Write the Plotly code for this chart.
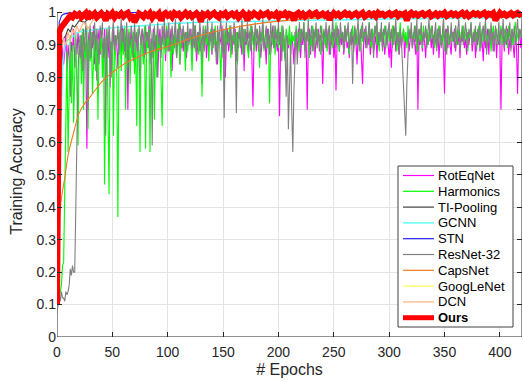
import plotly.graph_objects as go

# ---------------- data ----------------
# noisy baselines: one value per epoch (0 .. 420)
rotEqNet = [
    0.10, 0.55, 0.80, 0.86, 0.78, 0.90, 0.84, 0.88, 0.93, 0.82, 0.90, 0.86, 0.74, 0.91, 0.88, 0.95, 0.83, 0.92, 0.87, 0.94,
    0.89, 0.93, 0.85, 0.95, 0.80, 0.91, 0.88, 0.58, 0.90, 0.94, 0.86, 0.92, 0.89, 0.96, 0.84, 0.93, 0.79, 0.91, 0.95, 0.87,
    0.93, 0.90, 0.84, 0.95, 0.88, 0.92, 0.86, 0.94, 0.77, 0.91, 0.89, 0.95, 0.87, 0.93, 0.90, 0.83, 0.94, 0.91, 0.88, 0.96,
    0.90, 0.93, 0.86, 0.95, 0.70, 0.92, 0.89, 0.94, 0.87, 0.91, 0.95, 0.85, 0.93, 0.90, 0.88, 0.76, 0.92, 0.95, 0.89, 0.93,
    0.87, 0.94, 0.91, 0.96, 0.84, 0.92, 0.89, 0.95, 0.90, 0.86, 0.93, 0.80, 0.91, 0.95, 0.88, 0.93, 0.90, 0.96, 0.85, 0.92,
    0.94, 0.88, 0.91, 0.95, 0.82, 0.93, 0.89, 0.96, 0.87, 0.92, 0.94, 0.84, 0.90, 0.95, 0.88, 0.93, 0.91, 0.86, 0.94, 0.90,
    0.92, 0.95, 0.87, 0.93, 0.89, 0.96, 0.85, 0.91, 0.94, 0.88, 0.92, 0.78, 0.93, 0.90, 0.95, 0.86, 0.92, 0.89, 0.94, 0.91,
    0.87, 0.93, 0.95, 0.88, 0.91, 0.84, 0.94, 0.90, 0.92, 0.96, 0.86, 0.93, 0.80, 0.91, 0.95, 0.88, 0.92, 0.94, 0.87, 0.93,
    0.90, 0.95, 0.85, 0.92, 0.89, 0.94, 0.91, 0.87, 0.95, 0.82, 0.93, 0.90, 0.94, 0.88, 0.92, 0.96, 0.86, 0.71, 0.91, 0.94,
    0.88, 0.93, 0.90, 0.95, 0.86, 0.92, 0.94, 0.89, 0.91, 0.84, 0.95, 0.90, 0.93, 0.87, 0.92, 0.96, 0.89, 0.94, 0.91, 0.88,
    0.93, 0.68, 0.90, 0.95, 0.88, 0.92, 0.86, 0.94, 0.91, 0.89, 0.95, 0.87, 0.93, 0.90, 0.84, 0.94, 0.92, 0.88, 0.95, 0.91,
    0.86, 0.93, 0.90, 0.94, 0.88, 0.92, 0.70, 0.91, 0.95, 0.87, 0.93, 0.89, 0.94, 0.86, 0.92, 0.90, 0.95, 0.88, 0.93, 0.91,
    0.78, 0.92, 0.94, 0.89, 0.91, 0.95, 0.87, 0.93, 0.90, 0.94, 0.86, 0.92, 0.76, 0.91, 0.95, 0.88, 0.93, 0.90, 0.94, 0.87,
    0.92, 0.95, 0.89, 0.91, 0.86, 0.94, 0.90, 0.93, 0.88, 0.95, 0.91, 0.84, 0.93, 0.90, 0.94, 0.87, 0.78, 0.92, 0.95, 0.89,
    0.93, 0.90, 0.94, 0.87, 0.92, 0.95, 0.88, 0.91, 0.93, 0.86, 0.94, 0.90, 0.92, 0.95, 0.89, 0.93, 0.87, 0.91, 0.94, 0.90,
    0.86, 0.92, 0.83, 0.94, 0.90, 0.95, 0.88, 0.93, 0.91, 0.87, 0.94, 0.89, 0.92, 0.95, 0.86, 0.93, 0.90, 0.94, 0.88, 0.92,
    0.95, 0.89, 0.93, 0.91, 0.87, 0.94, 0.70, 0.92, 0.90, 0.95, 0.88, 0.93, 0.91, 0.86, 0.94, 0.90, 0.92, 0.95, 0.89, 0.93,
    0.87, 0.94, 0.91, 0.89, 0.95, 0.86, 0.92, 0.90, 0.93, 0.88, 0.75, 0.92, 0.95, 0.89, 0.93, 0.90, 0.87, 0.94, 0.91, 0.95,
    0.88, 0.92, 0.90, 0.94, 0.86, 0.93, 0.91, 0.95, 0.89, 0.92, 0.87, 0.94, 0.90, 0.93, 0.95, 0.88, 0.91, 0.94, 0.86, 0.92,
    0.90, 0.95, 0.88, 0.93, 0.91, 0.85, 0.94, 0.89, 0.92, 0.95, 0.87, 0.93, 0.90, 0.94, 0.88, 0.91, 0.95, 0.86, 0.93, 0.90,
    0.92, 0.70, 0.91, 0.94, 0.88, 0.93, 0.90, 0.95, 0.87, 0.92, 0.89, 0.94, 0.91, 0.86, 0.93, 0.90, 0.75, 0.92, 0.94, 0.89,
    0.93,
]

harmonics = [
    0.10, 0.11, 0.12, 0.14, 0.16, 0.22, 0.23, 0.45, 0.70, 0.88, 0.57, 0.80, 0.93, 0.72, 0.90, 0.66, 0.85, 0.94, 0.75, 0.59,
    0.88, 0.93, 0.78, 0.95, 0.70, 0.91, 0.86, 0.96, 0.64, 0.92, 0.85, 0.94, 0.75, 0.90, 0.95, 0.82, 0.93, 0.67, 0.91, 0.88,
    0.94, 0.80, 0.92, 0.47, 0.89, 0.95, 0.73, 0.44, 0.91, 0.86, 0.94, 0.62, 0.93, 0.88, 0.80, 0.37, 0.90, 0.95, 0.82, 0.92,
    0.87, 0.96, 0.70, 0.93, 0.89, 0.95, 0.78, 0.92, 0.86, 0.94, 0.81, 0.91, 0.65, 0.95, 0.88, 0.57, 0.93, 0.90, 0.84, 0.96,
    0.58, 0.92, 0.89, 0.95, 0.57, 0.91, 0.86, 0.94, 0.67, 0.93, 0.80, 0.95, 0.88, 0.92, 0.78, 0.65, 0.94, 0.90, 0.87, 0.96,
    0.88, 0.93, 0.91, 0.80, 0.95, 0.87, 0.92, 0.94, 0.86, 0.90, 0.97, 0.84, 0.93, 0.89, 0.95, 0.91, 0.82, 0.94, 0.88, 0.93,
    0.95, 0.90, 0.82, 0.93, 0.96, 0.88, 0.92, 0.94, 0.87, 0.95, 0.91, 0.74, 0.93, 0.89, 0.96, 0.90, 0.94, 0.85, 0.92, 0.95,
    0.88, 0.93, 0.90, 0.96, 0.85, 0.92, 0.94, 0.89, 0.79, 0.93, 0.91, 0.95, 0.87, 0.94, 0.90, 0.92, 0.96, 0.86, 0.93, 0.91,
    0.95, 0.88, 0.94, 0.84, 0.92, 0.96, 0.90, 0.93, 0.87, 0.95, 0.91, 0.94, 0.89, 0.86, 0.93, 0.96, 0.90, 0.94, 0.88, 0.92,
    0.95, 0.90, 0.93, 0.83, 0.94, 0.91, 0.96, 0.88, 0.92, 0.95, 0.89, 0.93, 0.72, 0.91, 0.94, 0.90, 0.96, 0.87, 0.93, 0.95,
    0.89, 0.94, 0.91, 0.96, 0.88, 0.93, 0.85, 0.95, 0.92, 0.90, 0.96, 0.87, 0.94, 0.91, 0.93, 0.89, 0.96, 0.92, 0.94, 0.88,
    0.95, 0.91, 0.93, 0.97, 0.89, 0.94, 0.92, 0.95, 0.86, 0.93, 0.90, 0.96, 0.88, 0.94, 0.92, 0.95, 0.91, 0.93, 0.87, 0.96,
    0.92, 0.94, 0.90, 0.95, 0.88, 0.93, 0.96, 0.91, 0.94, 0.89, 0.95, 0.92, 0.97, 0.90, 0.93, 0.88, 0.95, 0.92, 0.94, 0.90,
    0.96, 0.91, 0.93, 0.95, 0.87, 0.94, 0.92, 0.96, 0.89, 0.93, 0.95, 0.90, 0.94, 0.92, 0.88, 0.96, 0.91, 0.94, 0.93, 0.95,
    0.90, 0.93, 0.97, 0.91, 0.89, 0.95, 0.92, 0.94, 0.96, 0.90, 0.93, 0.88, 0.95, 0.91, 0.94, 0.92, 0.96, 0.89, 0.93, 0.95,
    0.91, 0.94, 0.92, 0.96, 0.90, 0.93, 0.95, 0.88, 0.94, 0.92, 0.97, 0.90, 0.93, 0.95, 0.91, 0.94, 0.89, 0.96, 0.92, 0.93,
    0.95, 0.90, 0.94, 0.92, 0.96, 0.88, 0.93, 0.95, 0.91, 0.94, 0.89, 0.96, 0.92, 0.93, 0.95, 0.90, 0.94, 0.91, 0.96, 0.92,
    0.93, 0.89, 0.95, 0.92, 0.94, 0.96, 0.90, 0.93, 0.91, 0.95, 0.88, 0.94, 0.92, 0.96, 0.90, 0.93, 0.95, 0.91, 0.94, 0.92,
    0.96, 0.90, 0.93, 0.95, 0.89, 0.94, 0.92, 0.96, 0.91, 0.93, 0.95, 0.88, 0.94, 0.92, 0.97, 0.90, 0.93, 0.95, 0.91, 0.94,
    0.92, 0.96, 0.89, 0.93, 0.95, 0.91, 0.94, 0.97, 0.90, 0.93, 0.92, 0.95, 0.88, 0.94, 0.96, 0.91, 0.93, 0.95, 0.90, 0.94,
    0.92, 0.96, 0.90, 0.93, 0.95, 0.91, 0.94, 0.89, 0.96, 0.92, 0.93, 0.95, 0.90, 0.94, 0.97, 0.91, 0.93, 0.95, 0.92, 0.94,
    0.95,
]

resnet32 = [
    0.07, 0.10, 0.13, 0.11, 0.14, 0.12, 0.12, 0.11, 0.14, 0.13, 0.14, 0.16, 0.21, 0.19, 0.22, 0.20, 0.20, 0.40, 0.65, 0.82,
    0.90, 0.86, 0.93, 0.82, 0.95, 0.88, 0.97, 0.91, 0.70, 0.93, 0.96, 0.86, 0.94, 0.90, 0.97, 0.88, 0.95, 0.91, 0.84, 0.96,
    0.92, 0.97, 0.86, 0.93, 0.62, 0.95, 0.89, 0.96, 0.91, 0.80, 0.94, 0.97, 0.88, 0.93, 0.90, 0.96, 0.87, 0.94, 0.98, 0.91,
    0.95, 0.88, 0.92, 0.97, 0.83, 0.94, 0.90, 0.96, 0.93, 0.85, 0.97, 0.91, 0.94, 0.88, 0.96, 0.92, 0.90, 0.95, 0.93, 0.86,
    0.96, 0.91, 0.94, 0.89, 0.97, 0.93, 0.59, 0.92, 0.96, 0.88, 0.94, 0.97, 0.90, 0.93, 0.86, 0.96, 0.92, 0.98, 0.89, 0.95,
    0.92, 0.97, 0.88, 0.94, 0.96, 0.90, 0.93, 0.98, 0.86, 0.95, 0.91, 0.97, 0.93, 0.89, 0.96, 0.92, 0.94, 0.88, 0.97, 0.91,
    0.95, 0.93, 0.89, 0.98, 0.92, 0.96, 0.87, 0.94, 0.91, 0.97, 0.93, 0.90, 0.96, 0.88, 0.95, 0.92, 0.98, 0.90, 0.94, 0.91,
    0.97, 0.89, 0.95, 0.93, 0.84, 0.96, 0.91, 0.94, 0.98, 0.88, 0.95, 0.675, 0.92, 0.97, 0.90, 0.94, 0.91, 0.96, 0.88, 0.93,
    0.97, 0.90, 0.69, 0.94, 0.92, 0.96, 0.89, 0.98, 0.93, 0.87, 0.95, 0.91, 0.97, 0.92, 0.94, 0.88, 0.96, 0.93, 0.90, 0.97,
    0.92, 0.95, 0.88, 0.96, 0.91, 0.94, 0.98, 0.89, 0.93, 0.96, 0.90, 0.95, 0.87, 0.97, 0.92, 0.94, 0.89, 0.96, 0.93, 0.91,
    0.97, 0.90, 0.94, 0.85, 0.96, 0.92, 0.88, 0.74, 0.93, 0.64, 0.82, 0.90, 0.70, 0.57, 0.76, 0.90, 0.95, 0.84, 0.93, 0.97,
    0.89, 0.95, 0.92, 0.97, 0.86, 0.94, 0.91, 0.98, 0.90, 0.93, 0.96, 0.88, 0.95, 0.92, 0.97, 0.89, 0.94, 0.91, 0.96, 0.93,
    0.88, 0.95, 0.92, 0.97, 0.90, 0.94, 0.96, 0.87, 0.93, 0.98, 0.91, 0.95, 0.89, 0.96, 0.93, 0.90, 0.97, 0.92, 0.94, 0.88,
    0.96, 0.91, 0.94, 0.97, 0.89, 0.93, 0.95, 0.78, 0.92, 0.96, 0.90, 0.94, 0.98, 0.88, 0.95, 0.92, 0.97, 0.90, 0.93, 0.96,
    0.89, 0.94, 0.97, 0.91, 0.95, 0.92, 0.86, 0.96, 0.93, 0.98, 0.90, 0.94, 0.91, 0.97, 0.88, 0.95, 0.93, 0.96, 0.90, 0.94,
    0.97, 0.91, 0.95, 0.89, 0.96, 0.93, 0.98, 0.90, 0.94, 0.87, 0.95, 0.92, 0.83, 0.74, 0.66, 0.62, 0.78, 0.90, 0.95, 0.92,
    0.97, 0.89, 0.94, 0.96, 0.91, 0.98, 0.88, 0.95, 0.93, 0.97, 0.90, 0.94, 0.92, 0.96, 0.89, 0.95, 0.98, 0.91, 0.93, 0.96,
    0.90, 0.94, 0.97, 0.88, 0.95, 0.92, 0.96, 0.89, 0.93, 0.98, 0.91, 0.95, 0.87, 0.96, 0.93, 0.90, 0.97, 0.92, 0.94, 0.89,
    0.96, 0.91, 0.95, 0.98, 0.88, 0.93, 0.96, 0.90, 0.94, 0.97, 0.92, 0.89, 0.95, 0.93, 0.97, 0.90, 0.94, 0.91, 0.96, 0.88,
    0.95, 0.92, 0.97, 0.89, 0.94, 0.96, 0.91, 0.98, 0.87, 0.93, 0.95, 0.90, 0.97, 0.92, 0.94, 0.88, 0.96, 0.93, 0.91, 0.97,
    0.90, 0.95, 0.93, 0.98, 0.89, 0.94, 0.96, 0.91, 0.93, 0.97, 0.88, 0.95, 0.92, 0.96, 0.90, 0.94, 0.98, 0.91, 0.95, 0.93,
    0.97,
]

# proposed method: sampled every 2 epochs (0, 2, ..., 420)
ours = [
    0.10, 0.94, 0.955, 0.965, 0.975, 0.985, 0.99, 0.985, 0.995, 0.99,
    0.995, 0.985, 0.99, 0.998, 0.98, 0.995, 0.99, 0.997, 0.985, 0.993,
    0.998, 0.99, 0.975, 0.995, 0.99, 0.998, 0.985, 0.994, 0.99, 0.997,
    0.988, 0.995, 0.999, 0.985, 0.993, 0.97, 0.99, 0.997, 0.992, 0.986,
    0.996, 0.99, 0.998, 0.984, 0.994, 0.99, 0.997, 0.975, 0.993, 0.998,
    0.99, 0.995, 0.986, 0.998, 0.992, 0.996, 0.985, 0.994, 0.999, 0.99,
    0.996, 0.987, 0.993, 0.998, 0.99, 0.972, 0.995, 0.991, 0.997, 0.988,
    0.994, 0.999, 0.99, 0.985, 0.996, 0.992, 0.998, 0.987, 0.993, 0.997,
    0.99, 0.996, 0.984, 0.994, 0.999, 0.991, 0.975, 0.995, 0.99, 0.998,
    0.993, 0.987, 0.997, 0.991, 0.995, 0.999, 0.988, 0.994, 0.99, 0.997,
    0.985, 0.995, 0.992, 0.998, 0.989, 0.996, 0.993, 0.976, 0.994, 0.999,
    0.99, 0.996, 0.987, 0.993, 0.998, 0.991, 0.995, 0.999, 0.989, 0.994,
    0.997, 0.99, 0.995, 0.978, 0.993, 0.998, 0.991, 0.996, 0.988, 0.995,
    0.999, 0.992, 0.996, 0.989, 0.994, 0.998, 0.99, 0.995, 0.999, 0.987,
    0.994, 0.997, 0.991, 0.996, 0.988, 0.999, 0.993, 0.996, 0.99, 0.995,
    0.998, 0.991, 0.995, 0.999, 0.989, 0.996, 0.993, 0.997, 0.975, 0.994,
    0.999, 0.992, 0.996, 0.99, 0.995, 0.998, 0.991, 0.994, 0.999, 0.988,
    0.995, 0.997, 0.99, 0.996, 0.993, 0.999, 0.989, 0.995, 0.998, 0.992,
    0.996, 0.99, 0.994, 0.999, 0.991, 0.997, 0.988, 0.995, 0.998, 0.993,
    0.997, 0.991, 0.995, 0.999, 0.99, 0.996, 0.993, 0.998, 0.976, 0.994,
    0.999, 0.992, 0.996, 0.99, 0.995, 0.998, 0.991, 0.996, 0.999, 0.993,
    0.996,
]

# sparse / smooth series (epoch, accuracy)
tiPool_ep = [0, 2, 4, 6, 8, 10, 12, 14, 16, 20, 25, 30, 40, 60, 100, 200, 300, 420]
tiPool = [0.10, 0.85, 0.90, 0.92, 0.93, 0.95, 0.94, 0.96, 0.955, 0.975, 0.97, 0.985, 0.99, 0.99, 0.995, 0.995, 0.996, 0.997]

gcnn_ep = [0, 2, 4, 6, 8, 10, 14, 20, 30, 40, 60, 80, 100, 130, 170, 200, 250, 300, 350, 420]
gcnn = [0.10, 0.40, 0.70, 0.87, 0.905, 0.915, 0.925, 0.94, 0.945, 0.95, 0.955, 0.96, 0.965, 0.97, 0.972, 0.975, 0.977, 0.98, 0.982, 0.985]

stn_ep = [0, 2, 4, 6, 10, 20, 40, 100, 200, 300, 420]
stn = [0.10, 0.97, 0.99, 0.995, 0.998, 0.999, 1.0, 1.0, 1.0, 1.0, 1.0]

caps_ep = [0, 1, 2, 3, 5, 7, 10, 15, 20, 25, 30, 40, 50, 60, 70, 85, 100, 115, 130, 150, 180, 215, 250, 300, 360, 420]
capsNet = [0.10, 0.25, 0.36, 0.40, 0.45, 0.49, 0.56, 0.63, 0.69, 0.72, 0.74, 0.785, 0.815, 0.84, 0.858, 0.88, 0.895, 0.913, 0.93, 0.947, 0.965, 0.978, 0.985, 0.99, 0.993, 0.995]

google_ep = [0, 2, 4, 6, 10, 20, 40, 100, 200, 300, 420]
googLeNet = [0.10, 0.90, 0.95, 0.97, 0.98, 0.985, 0.99, 0.995, 0.996, 0.997, 0.998]

dcn_ep = [0, 2, 4, 6, 8, 10, 12, 14, 16, 18, 20, 24, 28, 32, 36, 40, 60, 100, 200, 300, 420]
dcn = [0.10, 0.60, 0.88, 0.92, 0.90, 0.94, 0.91, 0.95, 0.93, 0.96, 0.94, 0.97, 0.95, 0.975, 0.98, 0.985, 0.99, 0.99, 0.992, 0.993, 0.994]

legend_names = ["RotEqNet", "Harmonics", "TI-Pooling", "GCNN", "STN",
                "ResNet-32", "CapsNet", "GoogLeNet", "DCN", "Ours"]

x_ticks = [0, 50, 100, 150, 200, 250, 300, 350, 400]
y_ticks = [0, 0.1, 0.2, 0.3, 0.4, 0.5, 0.6, 0.7, 0.8, 0.9, 1]


def epochs_of(vals, every):
    return [every * i for i in range(len(vals))]


FONT = "Liberation Sans, Arial, Helvetica, sans-serif"
AX = "#262626"

W, H = 523, 381
ML, MR, MT, MB = 57, 1, 6, 44
PW, PH = W - ML - MR, H - MT - MB


def px(xp):  # pixel x -> paper x
    return (xp - ML) / PW


def py(yp):  # pixel y -> paper y
    return (H - MB - yp) / PH


fig = go.Figure()

series = [
    (epochs_of(rotEqNet, 1), rotEqNet, "#ff00ff", 1.1, "linear"),
    (epochs_of(harmonics, 1), harmonics, "#00ff00", 1.1, "linear"),
    (tiPool_ep, tiPool, "#404040", 1.1, "linear"),
    (gcnn_ep, gcnn, "#55ffff", 1.4, "spline"),
    (stn_ep, stn, "#2020ff", 1.1, "linear"),
    (epochs_of(resnet32, 1), resnet32, "#808080", 1.1, "linear"),
    (caps_ep, capsNet, "#f07a20", 1.1, "spline"),
    (google_ep, googLeNet, "#ffff55", 1.1, "linear"),
    (dcn_ep, dcn, "#ffb07a", 1.1, "linear"),
    (epochs_of(ours, 2), ours, "#ff0000", 6, "linear"),
]

for (xs, ys, col, w, shape), name in zip(series, legend_names):
    fig.add_trace(go.Scatter(
        x=xs, y=ys, mode="lines", name=name, showlegend=False,
        line=dict(color=col, width=w, shape=shape),
    ))

# right-side mirrored tick marks
fig.add_trace(go.Scatter(x=[None], y=[None], yaxis="y2", showlegend=False, hoverinfo="skip"))

# axes box
fig.add_shape(type="rect", xref="x", yref="y", x0=0, x1=420, y0=0, y1=1,
              line=dict(color=AX, width=1), fillcolor="rgba(0,0,0,0)", layer="below")

# legend box drawn by hand (MATLAB-like compact spacing)
fig.add_shape(type="rect", xref="paper", yref="paper",
              x0=px(398), x1=px(513), y0=py(327), y1=py(166),
              line=dict(color="#404040", width=1), fillcolor="white", layer="above")
row0, step = 175.5, 15.8
for i, ((xs, ys, col, w, shape), name) in enumerate(zip(series, legend_names)):
    yc = row0 + i * step
    fig.add_shape(type="line", xref="paper", yref="paper",
                  x0=px(403), x1=px(434), y0=py(yc), y1=py(yc),
                  line=dict(color=col, width=(5 if w > 2 else max(w, 1.2))), layer="above")
    label = "<b>%s</b>" % name if name == "Ours" else name
    fig.add_annotation(xref="paper", yref="paper", x=px(436), y=py(yc),
                       text=label, showarrow=False, xanchor="left", yanchor="middle",
                       font=dict(family=FONT, size=13, color="#000000"))

fig.update_layout(
    width=W, height=H,
    margin=dict(l=ML, r=MR, t=MT, b=MB),
    paper_bgcolor="white", plot_bgcolor="white",
    font=dict(family=FONT, size=14, color=AX),
    showlegend=False,
    xaxis=dict(
        range=[0, 420], tickvals=x_ticks, ticks="inside", ticklen=5,
        tickcolor=AX, showgrid=True, gridcolor="#e3e3e3", gridwidth=1,
        zeroline=False, showline=False, ticklabelstandoff=5,
        title=dict(text="# Epochs", font=dict(size=16, color=AX), standoff=4),
        tickfont=dict(size=14, color=AX),
    ),
    yaxis=dict(
        range=[0, 1.02], tickvals=y_ticks, ticks="inside", ticklen=5,
        tickcolor=AX, showgrid=True, gridcolor="#e3e3e3", gridwidth=1,
        zeroline=False, showline=False,
        title=dict(text="Training Accuracy", font=dict(size=16, color=AX), standoff=9),
        tickfont=dict(size=14, color=AX),
    ),
    yaxis2=dict(
        range=[0, 1.02], tickvals=y_ticks, ticks="inside", ticklen=5,
        tickcolor=AX, overlaying="y", side="right", showticklabels=False,
        showgrid=False, zeroline=False, showline=False,
    ),
)

fig.write_html("out.html")
